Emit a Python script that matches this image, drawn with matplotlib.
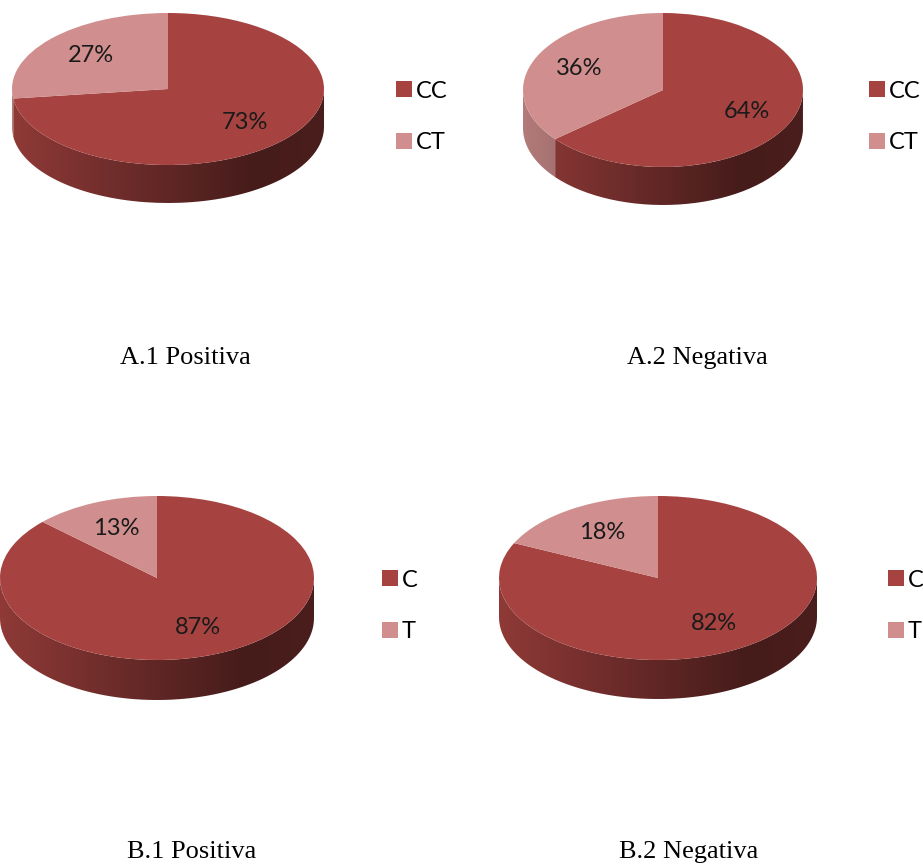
import numpy as np
import matplotlib
matplotlib.use("Agg")
import matplotlib.pyplot as plt
from matplotlib.path import Path
from matplotlib.patches import PathPatch
from matplotlib.colors import to_rgb

W, H = 923, 865

# genotype / allele frequencies (%)
genotipos = ["CC", "CT"]
alelos = ["C", "T"]
a1_positiva = [73, 27]
a2_negativa = [64, 36]
b1_positiva = [87, 13]
b2_negativa = [82, 18]

COR_ESCURA = "#A64340"
COR_CLARA = "#D08F8E"

fig = plt.figure(figsize=(W / 100, H / 100), dpi=100)


def fatia_lateral(ax, t0, t1, dd, cor):
    # side wall of the disc between angles t0..t1 (degrees), gradient from left to right
    t = np.radians(np.linspace(t0, t1, 80))
    xs = np.concatenate([np.cos(t), np.cos(t[::-1])])
    ys = np.concatenate([np.sin(t), np.sin(t[::-1]) - dd])
    caminho = Path(np.column_stack([xs, ys]))
    patch = PathPatch(caminho, facecolor="none", edgecolor="none")
    ax.add_patch(patch)
    gx = np.linspace(-1, 1, 256)
    fator = np.interp(gx, [-1, 0.55, 1], [0.86, 0.42, 0.44])
    base = np.array(to_rgb(cor))
    img = (fator[:, None] * base[None, :])[None, :, :]
    im = ax.imshow(img, extent=[-1, 1, -1 - dd, 1], aspect="auto",
                   interpolation="bilinear", zorder=0.5)
    im.set_clip_path(patch)


def pizza3d(cx, cy, rx, ry, prof, valores, nomes, leg_xy):
    esq, dir_ = cx - rx, cx + rx
    topo, base = cy - ry, cy + ry + prof
    ax = fig.add_axes([esq / W, 1 - base / H, (dir_ - esq) / W, (base - topo) / H])
    dd = prof / ry
    fatias, _, textos = ax.pie(valores, colors=[COR_ESCURA, COR_CLARA], startangle=90,
                               counterclock=False, autopct="%1.0f%%", pctdistance=0.66,
                               textprops=dict(fontsize=17, family="Lato", color="#1a1a1a"),
                               wedgeprops=dict(linewidth=0, zorder=1))
    ax.set_aspect("auto")
    ax.set_xlim(-1, 1)
    ax.set_ylim(-1 - dd, 1)
    for f in fatias:
        f.set_zorder(1)
        a0, a1 = f.theta1 % 360, f.theta2 % 360
        if a1 <= a0:
            a1 += 360
        # keep only the part of the wedge that faces the viewer (180..360)
        for desl in (0, -360, 360):
            lo, hi = max(a0 + desl, 180), min(a1 + desl, 360)
            if hi > lo:
                fatia_lateral(ax, lo, hi, dd, f.get_facecolor())
    for tx in textos:
        tx.set_zorder(3)
    fig.legend(fatias, nomes, loc="center left",
               bbox_to_anchor=(leg_xy[0] / W, 1 - leg_xy[1] / H),
               frameon=False, prop=dict(family="Lato", size=17),
               handlelength=0.66, handleheight=0.66, handletextpad=0.18,
               labelspacing=1.3, borderpad=0, borderaxespad=0)
    return ax


pizza3d(168, 89, 156, 76, 38, a1_positiva, genotipos, (396, 117))
pizza3d(663, 90, 140, 77, 38, a2_negativa, genotipos, (869, 117))
pizza3d(157, 578, 157, 82, 40, b1_positiva, alelos, (382, 606))
pizza3d(658, 578, 159, 82, 39, b2_negativa, alelos, (888, 606))

titulo = dict(family="Liberation Serif", fontsize=19, ha="center", va="center", color="black")
fig.text(185 / W, 1 - 358 / H, "A.1 Positiva", **titulo)
fig.text(697 / W, 1 - 358 / H, "A.2 Negativa", **titulo)
fig.text(192 / W, 1 - 852 / H, "B.1 Positiva", **titulo)
fig.text(689 / W, 1 - 852 / H, "B.2 Negativa", **titulo)

fig.savefig("out.png", dpi=100)
